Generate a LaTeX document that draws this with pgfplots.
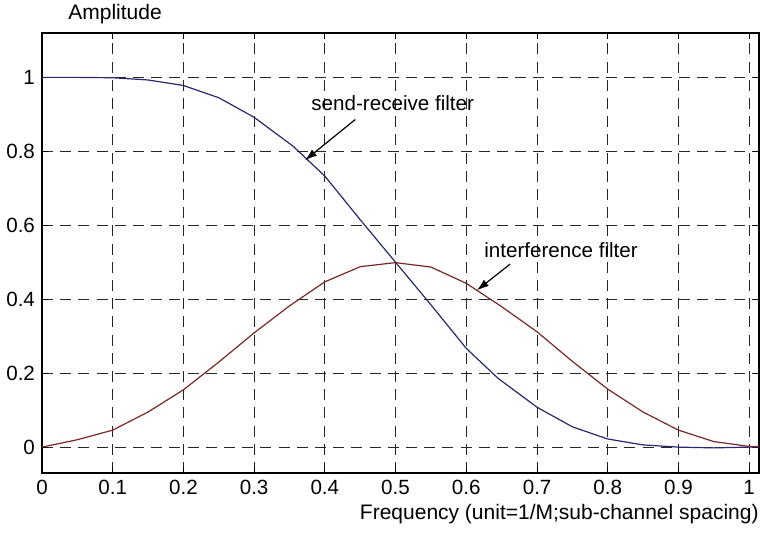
\documentclass[border=0pt]{standalone}
\usepackage{pgfplots}
\pgfplotsset{compat=1.18}
\usepackage{fontspec}
\setmainfont{Liberation Sans}
\usetikzlibrary{arrows.meta}
\definecolor{srcol}{RGB}{40,40,110}
\definecolor{ifcol}{RGB}{120,40,40}
\begin{document}
\begin{tikzpicture}
\begin{axis}[
  at={(0,0)}, anchor=south west,
  scale only axis,
  width=358.5pt, height=220pt,
  xmin=0, xmax=1.014, ymin=-0.07, ymax=1.12,
  xtick={0,0.1,0.2,0.3,0.4,0.5,0.6,0.7002,0.8,0.9,1},
  ytick={0,0.2,0.4,0.6,0.8,1},
  xticklabels={0,0.1,0.2,0.3,0.4,0.5,0.6,0.7,0.8,0.9,1},
  yticklabels={0,0.2,0.4,0.6,0.8,1},
  tick align=inside, tick pos=both,
  major tick length=3pt,
  tick style={black, line width=0.5pt},
  axis line style={black, line width=0.6pt},
  grid=major,
  major grid style={black!85, line width=0.6pt, dash pattern=on 5.5pt off 3.6pt},
  font=\fontsize{10.5}{12}\selectfont,
  tick label style={font=\fontsize{10.3}{12}\selectfont},
  xlabel={Frequency (unit=1/M;sub-channel spacing)},
  xlabel style={at={(rel axis cs:1,0)}, anchor=base east, yshift=-23pt, inner sep=0pt},
  ylabel={Amplitude},
  ylabel style={rotate=-90, at={(rel axis cs:0,1)}, anchor=base west, xshift=13pt, yshift=7pt, inner sep=0pt},
  clip=false,
]
\addplot[srcol, line width=0.6pt] coordinates {
(0,1) (0.05,1) (0.1,0.999) (0.15,0.993) (0.2,0.978) (0.25,0.945) (0.3,0.892)
(0.355,0.814) (0.4,0.733) (0.45,0.615) (0.5,0.5) (0.55,0.385) (0.6,0.267)
(0.645,0.186) (0.7,0.108) (0.75,0.055) (0.8,0.022) (0.85,0.006) (0.9,0.0)
(0.95,-0.002) (1.0,0.0) (1.014,0.0)
};
\addplot[ifcol, line width=0.6pt] coordinates {
(0,0) (0.05,0.02) (0.1,0.046) (0.15,0.095) (0.2,0.155) (0.25,0.23) (0.3,0.309)
(0.35,0.382) (0.4,0.447) (0.45,0.488) (0.5,0.499) (0.55,0.487) (0.6,0.443)
(0.65,0.38) (0.7,0.312) (0.75,0.232) (0.8,0.157) (0.85,0.095) (0.9,0.046)
(0.95,0.015) (1.0,0.002) (1.014,0.002)
};
\draw[-{Latex[length=6pt,width=4pt]}, black, line width=0.6pt] (axis cs:0.443,0.886) -- (axis cs:0.372,0.776);
\draw[-{Latex[length=6pt,width=4pt]}, black, line width=0.6pt] (axis cs:0.662,0.495) -- (axis cs:0.615,0.424);
\node[font=\fontsize{10.3}{12}\selectfont, inner sep=0pt] at (axis cs:0.496,0.93) {send-receive filter};
\node[font=\fontsize{10.3}{12}\selectfont, inner sep=0pt] at (axis cs:0.734,0.532) {interference filter};
\end{axis}
\pgfresetboundingbox
\path[use as bounding box] (-21pt,-29.5pt) rectangle (359pt,236.5pt);
\end{tikzpicture}
\end{document}
